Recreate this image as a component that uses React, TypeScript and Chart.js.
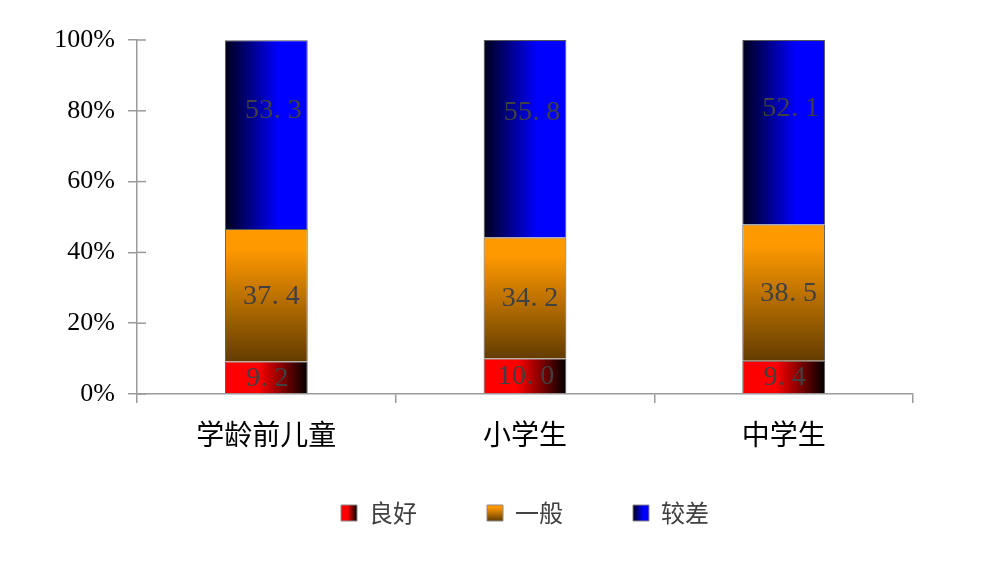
import React, { useEffect, useRef } from 'react';
import { Chart, registerables } from 'chart.js';

Chart.register(...registerables);

const categories = ['学龄前儿童', '小学生', '中学生'];
const seriesNames = ['良好', '一般', '较差'];
const goodValues = [9.2, 10.0, 9.4];
const fairValues = [37.4, 34.2, 38.5];
const poorValues = [53.3, 55.8, 52.1];
const yTicks = [0, 20, 40, 60, 80, 100];

const BAR_PCT = 0.32;
const AXIS_COLOR = '#9a9a9a';
const LABEL_COLOR = '#404040';
const LEGEND_GAP = '\u3000';

type Style = { dir: 'h' | 'v'; stops: [number, string][]; solid: string };
const STYLES: Style[] = [
  { dir: 'h', stops: [[0, '#ff0000'], [0.4, '#ff0000'], [1, '#000000']], solid: '#ff0000' },
  { dir: 'v', stops: [[0, '#ff9900'], [0.15, '#ff9900'], [1, '#633c00']], solid: '#ff9900' },
  { dir: 'h', stops: [[0, '#00001a'], [0.65, '#0000ff'], [1, '#0000ff']], solid: '#0000ff' },
];

function makeGradient(ctx: CanvasRenderingContext2D, st: Style, l: number, t: number, r: number, b: number) {
  const g = st.dir === 'v' ? ctx.createLinearGradient(0, t, 0, b) : ctx.createLinearGradient(l, 0, r, 0);
  st.stops.forEach(([o, c]) => g.addColorStop(o, c));
  return g;
}

function barBg(d: number) {
  return (c: any) => {
    const chart = c.chart;
    if (c.type !== 'data' || !chart.chartArea || !chart.scales.x) return STYLES[d].solid;
    const xs = chart.scales.x;
    const ys = chart.scales.y;
    const i = c.dataIndex;
    const cx = xs.getPixelForValue(i);
    const half = (xs.width / categories.length) * BAR_PCT / 2;
    const dsets = chart.data.datasets;
    let lo = 0;
    for (let k = 0; k < d; k++) lo += dsets[k].data[i];
    const hi = lo + dsets[d].data[i];
    return makeGradient(chart.ctx, STYLES[d], cx - half, ys.getPixelForValue(hi), cx + half, ys.getPixelForValue(lo));
  };
}

const LABEL_OFFSETS = [1, 5, 7];
const LABEL_FRACS = [0.5, 0.5, 0.635];

const valueLabelPlugin = {
  id: 'valueLabels',
  afterDatasetsDraw(chart: any) {
    const ctx = chart.ctx as CanvasRenderingContext2D;
    ctx.save();
    ctx.fillStyle = LABEL_COLOR;
    ctx.font = '28px "Liberation Serif"';
    ctx.textBaseline = 'middle';
    ctx.textAlign = 'center';
    const cell = 14.2;
    chart.data.datasets.forEach((ds: any, d: number) => {
      const meta = chart.getDatasetMeta(d);
      meta.data.forEach((el: any, i: number) => {
        const { x, y, base } = el.getProps(['x', 'y', 'base'], true);
        const ty = base + (y - base) * LABEL_FRACS[d];
        const text = Number(ds.data[i]).toFixed(1);
        const total = text.length * cell;
        const start = x + LABEL_OFFSETS[d] - total / 2;
        for (let k = 0; k < text.length; k++) {
          const ch = text[k];
          const cx = ch === '.' ? start + k * cell + 4 : start + k * cell + cell / 2;
          ctx.fillText(ch, cx, ty + 1);
        }
      });
    });
    ctx.restore();
  },
};

const innerTickPlugin = {
  id: 'innerTicks',
  afterDraw(chart: any) {
    const ys = chart.scales.y;
    const ctx = chart.ctx as CanvasRenderingContext2D;
    ctx.save();
    ctx.strokeStyle = AXIS_COLOR;
    ctx.lineWidth = 1.5;
    ys.ticks.forEach((_t: any, i: number) => {
      const py = ys.getPixelForTick(i);
      ctx.beginPath();
      ctx.moveTo(ys.right, py);
      ctx.lineTo(ys.right + 9, py);
      ctx.stroke();
    });
    ctx.restore();
  },
};

const legendGradientPlugin = {
  id: 'legendGradient',
  beforeDraw(chart: any) {
    const lg = chart.legend;
    if (!lg || !lg.legendItems || !lg.legendHitBoxes) return;
    lg.legendItems.forEach((item: any, i: number) => {
      const hb = lg.legendHitBoxes[i];
      if (!hb) return;
      const top = hb.top + (hb.height - 16) / 2;
      item.fillStyle = makeGradient(chart.ctx, STYLES[i], hb.left, top, hb.left + 16, top + 16);
    });
  },
};

export default function App() {
  const ref = useRef<HTMLCanvasElement | null>(null);
  useEffect(() => {
    if (!ref.current) return;
    const seriesValues = [goodValues, fairValues, poorValues];
    const chart = new Chart(ref.current, {
      type: 'bar',
      data: {
        labels: categories,
        datasets: seriesValues.map((vals, d) => ({
          label: seriesNames[d],
          data: vals,
          backgroundColor: barBg(d),
          borderColor: '#5a5a5a',
          borderWidth: 1,
          barPercentage: BAR_PCT,
          categoryPercentage: 1,
        })),
      },
      options: {
        animation: false,
        responsive: true,
        maintainAspectRatio: false,
        layout: { padding: { top: 40, left: 40, right: 87, bottom: 28 } },
        plugins: {
          tooltip: { enabled: false },
          legend: {
            position: 'bottom',
            fullSize: false,
            labels: {
              boxWidth: 16,
              boxHeight: 16,
              padding: 46,
              color: LABEL_COLOR,
              font: { family: '"Noto Sans CJK SC"', size: 24 },
              generateLabels: (ch: any) =>
                ch.data.datasets.map((ds: any, i: number, arr: any[]) => ({
                  text: i < arr.length - 1 ? ds.label + LEGEND_GAP : ds.label,
                  fillStyle: STYLES[i].solid,
                  strokeStyle: '#8a8a8a',
                  lineWidth: 1,
                  fontColor: LABEL_COLOR,
                  datasetIndex: i,
                  hidden: false,
                })),
            },
          },
        },
        scales: {
          x: {
            stacked: true,
            grid: { display: true, drawOnChartArea: false, drawTicks: true, tickLength: 9, color: AXIS_COLOR, lineWidth: 1.5, offset: true },
            border: { display: true, color: AXIS_COLOR, width: 1.5 },
            ticks: { color: '#000', padding: 15, font: { family: '"Noto Sans CJK SC"', size: 28 } },
            afterFit: (s: any) => { s.height = 61; },
          },
          y: {
            stacked: true,
            min: 0,
            max: 100,
            afterBuildTicks: (s: any) => { s.ticks = yTicks.map((v) => ({ value: v })); },
            grid: { display: true, drawOnChartArea: false, drawTicks: true, tickLength: 9, color: AXIS_COLOR, lineWidth: 1.5 },
            border: { display: true, color: AXIS_COLOR, width: 1.5 },
            ticks: { color: '#000', padding: 13, font: { family: '"Liberation Serif"', size: 26 }, callback: (v: any) => v + '%' },
            afterFit: (s: any) => { s.width = 97; },
          },
        },
      },
      plugins: [valueLabelPlugin, innerTickPlugin, legendGradientPlugin],
    } as any);
    return () => chart.destroy();
  }, []);
  return (
    <div style={{ position: 'absolute', left: 0, top: 0, width: 1000, height: 563, background: '#fff' }}>
      <canvas ref={ref} />
    </div>
  );
}
